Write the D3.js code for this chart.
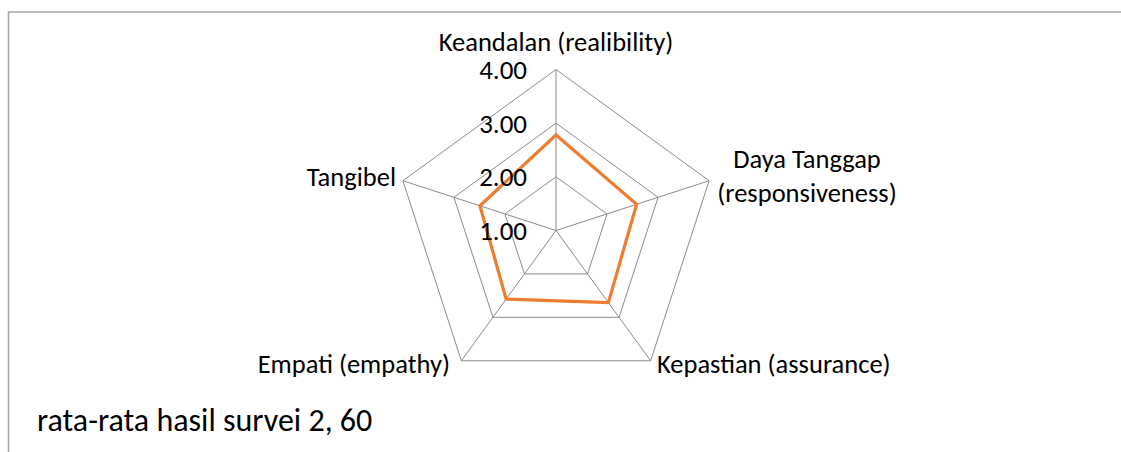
<!DOCTYPE html>
<html>
<head>
<meta charset="utf-8">
<script src="https://cdn.jsdelivr.net/npm/d3@7"></script>
<style>
  body { margin: 0; background: #fff; }
  text { font-family: Carlito, Calibri, Lato, sans-serif; fill: #000; }
</style>
</head>
<body>
<svg id="chart" width="1121" height="452"></svg>
<script>
// data
var categories = ["Keandalan (realibility)", "Daya Tanggap (responsiveness)", "Kepastian (assurance)", "Empati (empathy)", "Tangibel"];
var values = [2.78, 2.58, 2.66, 2.58, 2.49];
var ticks = [1, 2, 3, 4];
var note = "rata-rata hasil survei 2, 60";

var svg = d3.select("#chart");
var cx = 556, cy = 230.5, R = 161;

var r = d3.scaleLinear().domain([1, 4]).range([0, R]);
var angle = function(i) { return i * 2 * Math.PI / categories.length; };
function pt(i, v) {
  return [cx + r(v) * Math.sin(angle(i)), cy - r(v) * Math.cos(angle(i))];
}

// chart area border (top + left visible)
svg.append("path")
    .attr("d", "M8.5,452V12H1121")
    .attr("fill", "none")
    .attr("stroke", "#a6a6a6")
    .attr("stroke-width", 1.5);

var g = svg.append("g");

// rings
ticks.slice(1).forEach(function(t) {
  g.append("polygon")
      .attr("points", categories.map(function(c, i) { return pt(i, t).join(","); }).join(" "))
      .attr("fill", "none")
      .attr("stroke", "#8c8c8c")
      .attr("stroke-width", 1);
});

// spokes
categories.forEach(function(c, i) {
  var p = pt(i, 4);
  g.append("line")
      .attr("x1", cx).attr("y1", cy)
      .attr("x2", p[0]).attr("y2", p[1])
      .attr("stroke", "#8c8c8c")
      .attr("stroke-width", 1);
});

// series
var line = d3.line().curve(d3.curveLinearClosed);
g.append("path")
    .datum(values.map(function(v, i) { return pt(i, v); }))
    .attr("d", line)
    .attr("fill", "none")
    .attr("stroke", "#ed7d31")
    .attr("stroke-width", 3.2)
    .attr("stroke-linejoin", "miter");

// tick labels
g.selectAll(".tick")
    .data(ticks).enter().append("text")
    .attr("x", cx - 29)
    .attr("y", function(d) { return cy - r(d) + 9.5; })
    .attr("text-anchor", "end")
    .style("font-size", "27px")
    .text(function(d) { return d.toFixed(2); });

// category labels
var lab = 26.5;
g.append("text").attr("x", cx).attr("y", 51).attr("text-anchor", "middle")
    .style("font-size", lab + "px").text(categories[0]);

var dt = categories[1].split(" (");
var t1 = g.append("text").attr("x", 807).attr("y", 168).attr("text-anchor", "middle")
    .style("font-size", lab + "px");
t1.append("tspan").attr("x", 807).text(dt[0]);
t1.append("tspan").attr("x", 807).attr("dy", 33.7).text("(" + dt[1]);

g.append("text").attr("x", 657).attr("y", 373).attr("text-anchor", "start")
    .style("font-size", lab + "px").text(categories[2]);
g.append("text").attr("x", 450).attr("y", 373).attr("text-anchor", "end")
    .style("font-size", lab + "px").text(categories[3]);
g.append("text").attr("x", 396).attr("y", 186).attr("text-anchor", "end")
    .style("font-size", lab + "px").text(categories[4]);

// note
svg.append("text").attr("x", 37).attr("y", 431)
    .style("font-size", "32px").text(note);
</script>
</body>
</html>
